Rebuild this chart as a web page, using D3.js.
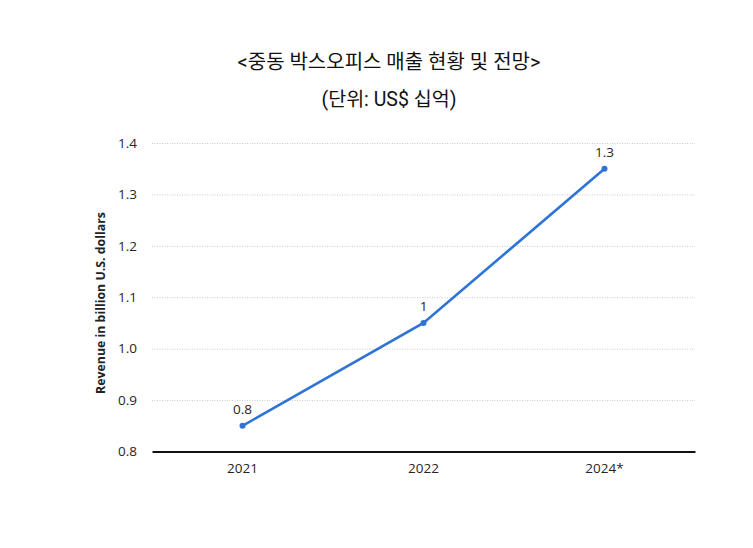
<!DOCTYPE html>
<html>
<head>
<meta charset="utf-8">
<script src="https://cdn.jsdelivr.net/npm/d3@7"></script>
<style>
  html, body { margin: 0; padding: 0; background: #fff; }
  svg { display: block; }
</style>
</head>
<body>
<svg id="chart" width="753" height="548"></svg>
<script>
const categories = ["2021", "2022", "2024*"];
const values = [0.85, 1.05, 1.35];
const valueLabels = ["0.8", "1", "1.3"];
const yTicks = [0.8, 0.9, 1.0, 1.1, 1.2, 1.3, 1.4];
const title = "<중동 박스오피스 매출 현황 및 전망>";
const subtitle = "(단위: US$ 십억)";
const yAxisTitle = "Revenue in billion U.S. dollars";

const svg = d3.select("#chart");
const pLeft = 152, pRight = 695, pTop = 143, pBottom = 451.5;

const x = d3.scaleBand().domain(categories).range([pLeft, pRight]).padding(0);
const y = d3.scaleLinear().domain([0.8, 1.4]).range([pBottom, pTop]);

const tickFont = "'Open Sans', sans-serif";
const titleFont = "Roboto, 'Noto Sans CJK KR', sans-serif";

function fitWidth(sel, target) {
  const w = sel.node().getComputedTextLength();
  const fs = parseFloat(sel.attr("font-size"));
  sel.attr("font-size", fs * target / w);
}

const t1 = svg.append("text").attr("x", 389).attr("y", 69).attr("text-anchor", "middle")
  .attr("font-family", titleFont).attr("font-size", 20)
  .attr("fill", "#111").text(title);
fitWidth(t1, 303);
const t2 = svg.append("text").attr("x", 389).attr("y", 106).attr("text-anchor", "middle")
  .attr("font-family", titleFont).attr("font-size", 20)
  .attr("fill", "#111").text(subtitle);
fitWidth(t2, 135);

// gridlines
const yAxis = d3.axisLeft(y).tickValues(yTicks).tickFormat(d3.format(".1f"))
  .tickSize(-(pRight - pLeft)).tickPadding(15);
const gy = svg.append("g").attr("transform", `translate(${pLeft},0)`).call(yAxis);
gy.select(".domain").remove();
gy.selectAll(".tick line").attr("stroke", "#c8c8c8").attr("stroke-dasharray", "1,1.5");
gy.selectAll(".tick").filter(d => d === 0.8).select("line").remove();
gy.selectAll(".tick text").attr("font-family", tickFont).attr("font-size", 13.5).attr("fill", "#262626");

// bottom axis
const xAxis = d3.axisBottom(x).tickSize(0).tickPadding(12);
const gx = svg.append("g").attr("transform", `translate(0,${pBottom})`).call(xAxis);
gx.select(".domain").attr("stroke", "#111").attr("stroke-width", 2);
gx.selectAll(".tick text").attr("font-family", tickFont).attr("font-size", 13.5).attr("fill", "#262626");

// y axis title
const yt = svg.append("text").attr("transform", `translate(105,${303}) rotate(-90)`)
  .attr("text-anchor", "middle").attr("font-family", tickFont).attr("font-weight", "bold")
  .attr("font-size", 13).attr("fill", "#222").text(yAxisTitle);
fitWidth(yt, 182);

const data = categories.map((c, i) => ({ c, v: values[i], l: valueLabels[i] }));
const cx = d => x(d.c) + x.bandwidth() / 2;

svg.append("path").datum(data)
  .attr("d", d3.line().x(cx).y(d => y(d.v)))
  .attr("fill", "none").attr("stroke", "#2e74d6").attr("stroke-width", 2.6);

svg.selectAll("circle.pt").data(data).enter().append("circle")
  .attr("cx", cx).attr("cy", d => y(d.v)).attr("r", 3).attr("fill", "#2e74d6");

svg.selectAll("text.lbl").data(data).enter().append("text")
  .attr("x", cx).attr("y", d => y(d.v) - 12).attr("text-anchor", "middle")
  .attr("font-family", tickFont).attr("font-size", 13.5).attr("fill", "#262626")
  .text(d => d.l);
</script>
</body>
</html>
